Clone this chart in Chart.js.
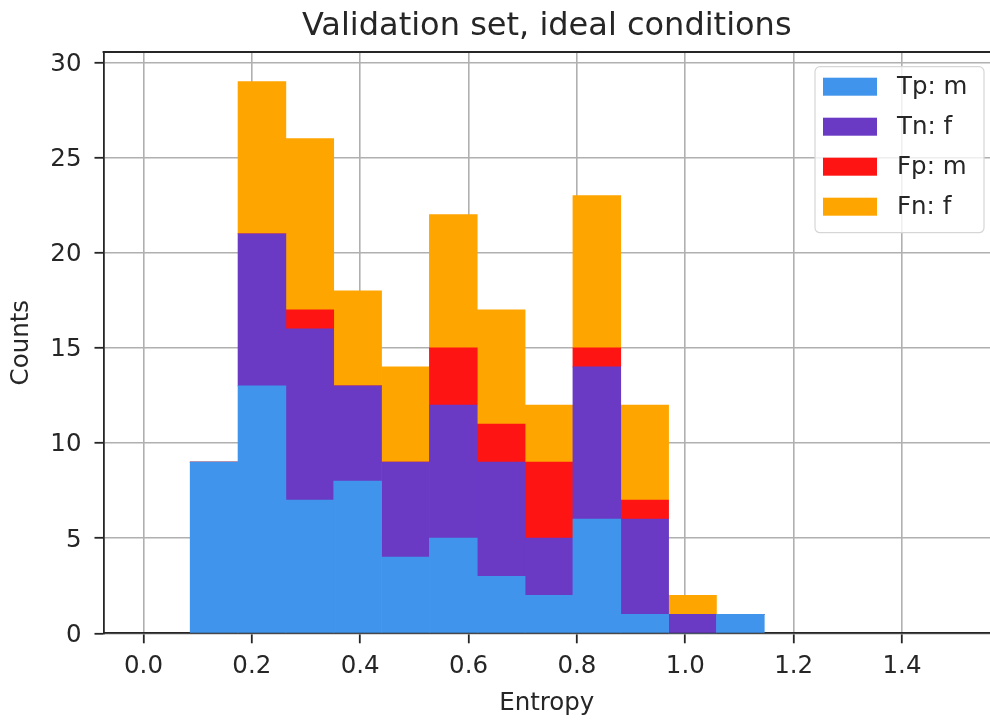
<!DOCTYPE html>
<html>
<head>
<meta charset="utf-8">
<title>Validation set, ideal conditions</title>
<script src="https://cdn.jsdelivr.net/npm/chart.js@4.4.1/dist/chart.umd.min.js"></script>
<style>
  body { margin: 0; background: #fff; }
  #wrap { width: 990px; height: 720px; }
</style>
</head>
<body>
<div id="wrap"><canvas id="myChart" width="990" height="720"></canvas></div>
<script>
// histogram bin edges (Entropy), 12 bins
const binEdges = [0.0862, 0.1745, 0.2628, 0.3511, 0.4394, 0.5277, 0.616, 0.7043, 0.7926, 0.8809, 0.9692, 1.0575, 1.1458];

// counts per bin, stacked in this order
const tpM = [9, 13, 7, 8, 4, 5, 3, 2, 6, 1, 0, 1];
const tnF = [0, 8, 9, 5, 5, 7, 6, 3, 8, 5, 1, 0];
const fpM = [0, 0, 1, 0, 0, 3, 2, 4, 1, 1, 0, 0];
const fnF = [0, 8, 9, 5, 5, 7, 6, 3, 8, 5, 1, 0];

const seriesLabels = ["Tp: m", "Tn: f", "Fp: m", "Fn: f"];
const seriesColors = ["#4194ec", "#6a3ac5", "#ff1414", "#ffa500"];

const xTicks = [0.0, 0.2, 0.4, 0.6, 0.8, 1.0, 1.2, 1.4];
const yTicks = [0, 5, 10, 15, 20, 25, 30];

const FONT = "'DejaVu Sans', sans-serif";
const INK = "#262626";

// bar centre of every bin
const binCenters = binEdges.slice(0, -1).map((e, i) => (e + binEdges[i + 1]) / 2);
const toPoints = (vals) => vals.map((v, i) => ({ x: binCenters[i], y: v }));

// legend box drawn inside the plot, like matplotlib
const boxLegend = {
  id: "boxLegend",
  afterDraw(chart) {
    const { ctx, chartArea } = chart;
    const x0 = chartArea.right - 175;
    const y0 = chartArea.top + 14.7;
    const w = 169;
    const h = 166;

    ctx.save();
    ctx.beginPath();
    ctx.roundRect(x0, y0, w, h, 5);
    ctx.fillStyle = "rgba(255,255,255,0.8)";
    ctx.fill();
    ctx.lineWidth = 1.2;
    ctx.strokeStyle = "#d6d6d6";
    ctx.stroke();

    ctx.font = "24.5px " + FONT;
    ctx.textBaseline = "middle";
    ctx.textAlign = "left";
    chart.data.datasets.forEach((ds, i) => {
      const cy = y0 + 20 + 40 * i;
      ctx.fillStyle = ds.backgroundColor;
      ctx.fillRect(x0 + 8, cy - 9, 54, 18);
      ctx.fillStyle = INK;
      ctx.fillText(ds.label, x0 + 82, cy + 1);
    });
    ctx.restore();
  },
};

// top spine
const topSpine = {
  id: "topSpine",
  afterDraw(chart) {
    const { ctx, chartArea } = chart;
    ctx.save();
    ctx.strokeStyle = INK;
    ctx.lineWidth = 1.8;
    ctx.beginPath();
    ctx.moveTo(chartArea.left - 0.9, chartArea.top);
    ctx.lineTo(chartArea.right, chartArea.top);
    ctx.stroke();
    ctx.restore();
  },
};

const ctx = document.getElementById("myChart");

new Chart(ctx, {
  type: "bar",
  data: {
    datasets: [tpM, tnF, fpM, fnF].map((vals, i) => ({
      label: seriesLabels[i],
      data: toPoints(vals),
      backgroundColor: seriesColors[i],
      borderWidth: 0,
      barPercentage: 1,
      categoryPercentage: 1,
    })),
  },
  options: {
    responsive: false,
    animation: false,
    layout: { padding: 0 },
    plugins: {
      legend: { display: false },
      tooltip: { enabled: false },
      title: {
        display: true,
        fullSize: false,
        text: "Validation set, ideal conditions",
        color: INK,
        font: { family: FONT, size: 32, weight: "normal" },
        padding: { top: 7, bottom: 6.6 },
      },
    },
    scales: {
      x: {
        type: "linear",
        stacked: true,
        offset: false,
        min: -0.0738,
        max: 1.5624,
        z: 1,
        afterFit: (scale) => { scale.height = 86.7; },
        afterBuildTicks: (scale) => { scale.ticks = xTicks.map((v) => ({ value: v })); },
        grid: {
          offset: false,
          color: "#b0b0b0",
          lineWidth: 1.6,
          tickColor: INK,
          tickWidth: 1.8,
          tickLength: 10,
        },
        border: { color: INK, width: 1.8 },
        ticks: {
          color: INK,
          padding: 8.5,
          maxRotation: 0,
          font: { family: FONT, size: 24.5 },
          callback: (v) => v.toFixed(1),
        },
        title: {
          display: true,
          text: "Entropy",
          color: INK,
          font: { family: FONT, size: 24.5 },
          padding: { top: 0, bottom: 1.8 },
        },
      },
      y: {
        stacked: true,
        min: 0,
        max: 30.55,
        z: 1,
        afterFit: (scale) => { scale.width = 103.5; },
        afterBuildTicks: (scale) => { scale.ticks = yTicks.map((v) => ({ value: v })); },
        grid: {
          color: "#b0b0b0",
          lineWidth: 1.6,
          tickColor: INK,
          tickWidth: 1.8,
          tickLength: 9,
        },
        border: { color: INK, width: 1.8 },
        ticks: {
          color: INK,
          padding: 13,
          labelOffset: 2,
          font: { family: FONT, size: 24.5 },
        },
        title: {
          display: true,
          text: "Counts",
          color: INK,
          font: { family: FONT, size: 24.5 },
          padding: { top: 7.3, bottom: 0 },
        },
      },
    },
  },
  plugins: [boxLegend, topSpine],
});
</script>
</body>
</html>
